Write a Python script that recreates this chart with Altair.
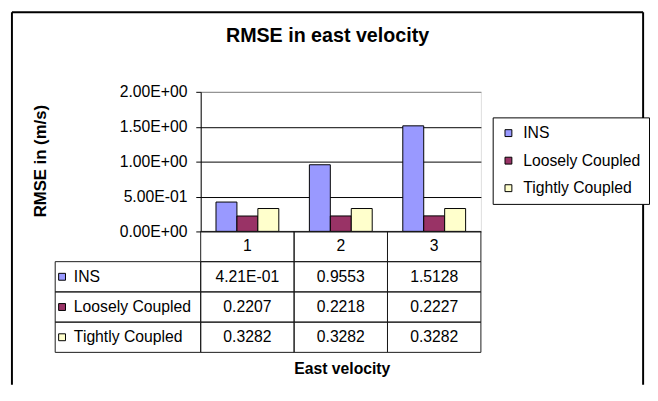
import altair as alt
import pandas as pd

# ---- data ----
categories = ["1", "2", "3"]
series = ["INS", "Loosely Coupled", "Tightly Coupled"]
ins = [0.421, 0.9553, 1.5128]
loosely = [0.2207, 0.2218, 0.2227]
tightly = [0.3282, 0.3282, 0.3282]
ins_text = ["4.21E-01", "0.9553", "1.5128"]
loosely_text = ["0.2207", "0.2218", "0.2227"]
tightly_text = ["0.3282", "0.3282", "0.3282"]
y_ticks = [0, 0.5, 1.0, 1.5, 2.0]
y_tick_labels = ["0.00E+00", "5.00E-01", "1.00E+00", "1.50E+00", "2.00E+00"]
colors = ["#9999FF", "#993366", "#FFFFCC"]
title_text = "RMSE in east velocity"
y_title = "RMSE in (m/s)"
x_title = "East velocity"

FONT = "Liberation Sans"
W, H = 285, 142

values = {"INS": ins, "Loosely Coupled": loosely, "Tightly Coupled": tightly}
texts = {"INS": ins_text, "Loosely Coupled": loosely_text, "Tightly Coupled": tightly_text}

df_bars = pd.DataFrame([
    {"cat": c, "series": s, "value": values[s][i]}
    for s in series for i, c in enumerate(categories)
])
rows = ["header"] + series
df_cells = pd.DataFrame([{"row": r, "cat": c} for r in rows for c in categories])
df_vals = pd.DataFrame(
    [{"row": "header", "cat": c, "txt": c} for c in categories]
    + [{"row": s, "cat": c, "txt": texts[s][i]} for s in series for i, c in enumerate(categories)]
)
df_rowlab = pd.DataFrame({"row": series, "series": series})

# label expression from tick arrays
expr = "''"
for v, l in reversed(list(zip(y_ticks, y_tick_labels))):
    expr = f"datum.value == {v} ? '{l}' : " + expr

x_scale = alt.Scale(domain=categories, paddingInner=0, paddingOuter=0)
row_scale = alt.Scale(domain=rows, range=[H, H + 123], paddingInner=0, paddingOuter=0)
color_scale = alt.Scale(domain=series, range=colors)

bars = alt.Chart(df_bars).mark_bar(stroke="black", strokeWidth=1).encode(
    x=alt.X("cat:N", scale=x_scale, axis=None, sort=categories),
    xOffset=alt.XOffset("series:N", sort=series,
                        scale=alt.Scale(paddingInner=0, paddingOuter=0.73)),
    y=alt.Y("value:Q", scale=alt.Scale(domain=[0, 2]),
            axis=alt.Axis(values=y_ticks, labelExpr=expr, labelFontSize=16, labelFont=FONT,
                          labelColor="black", tickSize=5, tickColor="black",
                          domainColor="black", labelPadding=9,
                          grid=True,
                          gridColor={"condition": {"test": "datum.value >= 2", "value": "#808080"},
                                     "value": "black"},
                          gridWidth=1, gridOpacity=1,
                          title=y_title, titleFontSize=17, titleFont=FONT, titleFontWeight="bold",
                          titleColor="black", titleX=-163, titleY=H / 2 - 1, titleAngle=-90,
                          titleAlign="center", titleBaseline="middle")),
    color=alt.Color("series:N", scale=color_scale, sort=series,
                    legend=alt.Legend(title=None, orient="none", legendX=297, legendY=26,
                                      symbolType="square", symbolSize=49,
                                      symbolStrokeColor="black", symbolStrokeWidth=1,
                                      labelFontSize=16, labelFont=FONT, labelColor="black",
                                      labelOffset=7, padding=8, rowPadding=12,
                                      strokeColor="black", fillColor="white")),
)

cells = alt.Chart(df_cells).mark_rect(fillOpacity=0, stroke="#1a1a1a", strokeWidth=1).encode(
    x=alt.X("cat:N", scale=x_scale, axis=None, sort=categories),
    y=alt.Y("row:N", scale=row_scale, axis=None, sort=rows),
)

label_cells = alt.Chart(df_rowlab).mark_rect(fillOpacity=0, stroke="#1a1a1a", strokeWidth=1).encode(
    x=alt.value(-148), x2=alt.value(0),
    y=alt.Y("row:N", scale=row_scale, axis=None, sort=rows),
)

cell_text = alt.Chart(df_vals).mark_text(fontSize=16, font=FONT, color="black",
                                          baseline="middle", align="center").encode(
    x=alt.X("cat:N", scale=x_scale, axis=None, sort=categories),
    y=alt.Y("row:N", scale=row_scale, axis=None, sort=rows),
    text="txt:N",
)

row_labels = alt.Chart(df_rowlab).mark_text(fontSize=16, font=FONT, color="black",
                                             baseline="middle", align="left").encode(
    x=alt.value(-129),
    y=alt.Y("row:N", scale=row_scale, axis=None, sort=rows),
    text="series:N",
)

row_squares = alt.Chart(df_rowlab).mark_point(shape="square", filled=True, size=49,
                                               stroke="black", strokeWidth=1, opacity=1).encode(
    x=alt.value(-141),
    y=alt.Y("row:N", scale=row_scale, axis=None, sort=rows),
    color=alt.Color("series:N", scale=color_scale, sort=series),
)

one = pd.DataFrame({"t": [title_text]})
main_title = alt.Chart(one).mark_text(fontSize=20, font=FONT, fontWeight="bold", color="black",
                                      baseline="middle", align="center").encode(
    x=alt.value(129), y=alt.value(-57), text="t:N")

xt = pd.DataFrame({"t": [x_title]})
x_title_mark = alt.Chart(xt).mark_text(fontSize=16, font=FONT, fontWeight="bold", color="black",
                                       baseline="middle", align="center").encode(
    x=alt.value(144), y=alt.value(282), text="t:N")

d0 = pd.DataFrame({"a": [0]})
frame_left = alt.Chart(d0).mark_rule(color="black", strokeWidth=2).encode(
    x=alt.value(-192), y=alt.value(-81), y2=alt.value(298))
frame_right = alt.Chart(d0).mark_rule(color="black", strokeWidth=2).encode(
    x=alt.value(450), y=alt.value(-81), y2=alt.value(298))
frame_top = alt.Chart(d0).mark_rule(color="black", strokeWidth=2).encode(
    x=alt.value(-192), x2=alt.value(450), y=alt.value(-81))

chart = alt.layer(
    bars, cells, label_cells, cell_text, row_labels, row_squares,
    main_title, x_title_mark, frame_left, frame_right, frame_top,
).resolve_scale(y="independent").properties(
    width=W, height=H,
    padding={"left": 3, "top": 0, "right": 0, "bottom": 0},
    background="white",
).configure_view(fill="#C0C0C0", stroke="#808080", strokeWidth=1).configure(font=FONT)

chart.save("out.html", embed_options={"renderer": "svg", "actions": False})
